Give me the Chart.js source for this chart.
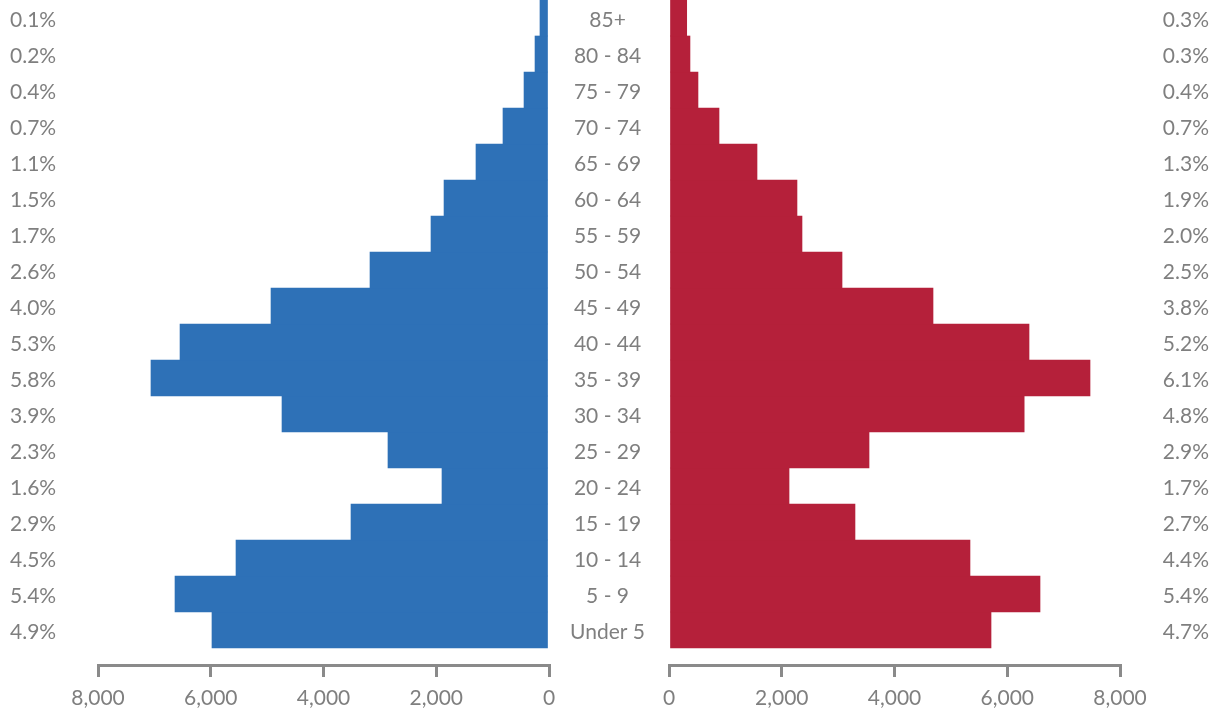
<!DOCTYPE html>
<html>
<head>
<meta charset="utf-8">
<script src="https://cdn.jsdelivr.net/npm/chart.js@4.4.1/dist/chart.umd.min.js"></script>
<style>
  html, body { margin: 0; padding: 0; background: #fff; }
  #wrap { position: relative; width: 1217px; height: 711px; overflow: hidden; }
  canvas { position: absolute; top: 0; }
  #left { left: 0; }
  #right { left: 549px; }
</style>
</head>
<body>
<div id="wrap">
  <canvas id="left" width="575" height="711"></canvas>
  <canvas id="right" width="668" height="711"></canvas>
</div>
<script>
// bottom row first (Under 5) up to 85+
const ageGroups = ['Under 5', '5 - 9', '10 - 14', '15 - 19', '20 - 24', '25 - 29', '30 - 34', '35 - 39', '40 - 44',
                   '45 - 49', '50 - 54', '55 - 59', '60 - 64', '65 - 69', '70 - 74', '75 - 79', '80 - 84', '85+'];
const male = [5978, 6634, 5552, 3512, 1898, 2856, 4736, 7060, 6545, 4931, 3175, 2093, 1862, 1295, 816, 443, 248, 160];
const female = [5712, 6581, 5339, 3299, 2129, 3548, 6300, 7468, 6386, 4683, 3069, 2359, 2270, 1561, 887, 514, 372, 314];
const malePct = ['4.9%', '5.4%', '4.5%', '2.9%', '1.6%', '2.3%', '3.9%', '5.8%', '5.3%', '4.0%', '2.6%', '1.7%', '1.5%', '1.1%', '0.7%', '0.4%', '0.2%', '0.1%'];
const femalePct = ['4.7%', '5.4%', '4.4%', '2.7%', '1.7%', '2.9%', '4.8%', '6.1%', '5.2%', '3.8%', '2.5%', '2.0%', '1.9%', '1.3%', '0.7%', '0.4%', '0.3%', '0.3%'];
const xTicks = [0, 2000, 4000, 6000, 8000];

const BLUE = '#2E71B7';
const RED = '#B5203A';
const TEXT = '#7F7F7F';
const AXIS = '#8A8A8A';
const FONT = { family: 'Lato, "Open Sans", sans-serif', size: 21 };

// rows are 36px, axis line sits ~17px under the last bar
const Y_MIN = -0.5 - 17 / 36;
const Y_MAX = ageGroups.length - 0.5;
// labels sit a little below the row centre in the original
const LABEL_SHIFT = 2.5 / 36;

Chart.defaults.font = FONT;
Chart.defaults.color = TEXT;

function noPad(scale) {
  scale.paddingTop = 0;
  scale.paddingBottom = 0;
  scale.paddingLeft = 0;
  scale.paddingRight = 0;
}

function xAxis(reverse) {
  return {
    type: 'linear',
    min: 0,
    max: 8000,
    reverse: reverse,
    afterBuildTicks: s => { s.ticks = xTicks.map(v => ({ value: v })); },
    ticks: {
      color: TEXT,
      padding: 9,
      maxRotation: 0,
      callback: v => v.toLocaleString('en-US')
    },
    grid: { display: true, drawOnChartArea: false, drawTicks: true, tickLength: 12, color: AXIS, lineWidth: 3 },
    border: { display: true, color: AXIS, width: 3 },
    afterFit: s => { s.height = 46; noPad(s); }
  };
}

function rowAxis(min, max) {
  return {
    type: 'linear',
    display: false,
    min: min,
    max: max,
    bounds: 'data',
    offset: false,
    afterBuildTicks: s => {
      s.ticks = ageGroups.map((g, i) => ({ value: i }));
      s.min = min;
      s.max = max;
    },
    grid: { offset: false }
  };
}

function labelAxis(position, width, labels, crossAlign, padding) {
  const ax = rowAxis(Y_MIN + LABEL_SHIFT, Y_MAX + LABEL_SHIFT);
  return Object.assign(ax, {
    display: true,
    position: position,
    ticks: {
      autoSkip: false,
      crossAlign: crossAlign,
      padding: padding,
      color: TEXT,
      callback: v => labels[v] !== undefined ? labels[v] : ''
    },
    grid: { display: false, drawTicks: false, offset: false },
    border: { display: false },
    afterFit: s => { s.width = width; noPad(s); }
  });
}

function barData(values) {
  return values.map((v, i) => ({ x: v, y: i }));
}

const common = {
  responsive: false,
  animation: false,
  indexAxis: 'y',
  plugins: { legend: { display: false }, tooltip: { enabled: false } }
};

new Chart(document.getElementById('left'), {
  type: 'bar',
  data: {
    datasets: [{
      data: barData(male),
      yAxisID: 'y',
      backgroundColor: BLUE,
      borderWidth: 0,
      barPercentage: 1,
      categoryPercentage: 1
    }]
  },
  options: Object.assign({}, common, {
    layout: { padding: { left: 10, right: 26, top: 0, bottom: 0 } },
    scales: {
      x: xAxis(true),
      y: rowAxis(Y_MIN, Y_MAX),
      pct: labelAxis('left', 88, malePct, 'far', 0)
    }
  })
});

new Chart(document.getElementById('right'), {
  type: 'bar',
  data: {
    datasets: [{
      data: barData(female),
      yAxisID: 'y',
      backgroundColor: RED,
      borderWidth: 0,
      barPercentage: 1,
      categoryPercentage: 1
    }]
  },
  options: Object.assign({}, common, {
    layout: { padding: { left: 0, right: 8, top: 0, bottom: 0 } },
    scales: {
      x: xAxis(false),
      y: rowAxis(Y_MIN, Y_MAX),
      age: labelAxis('left', 120, ageGroups, 'center', 24),
      pct: labelAxis('right', 89, femalePct, 'far', 0)
    }
  })
});
</script>
</body>
</html>
